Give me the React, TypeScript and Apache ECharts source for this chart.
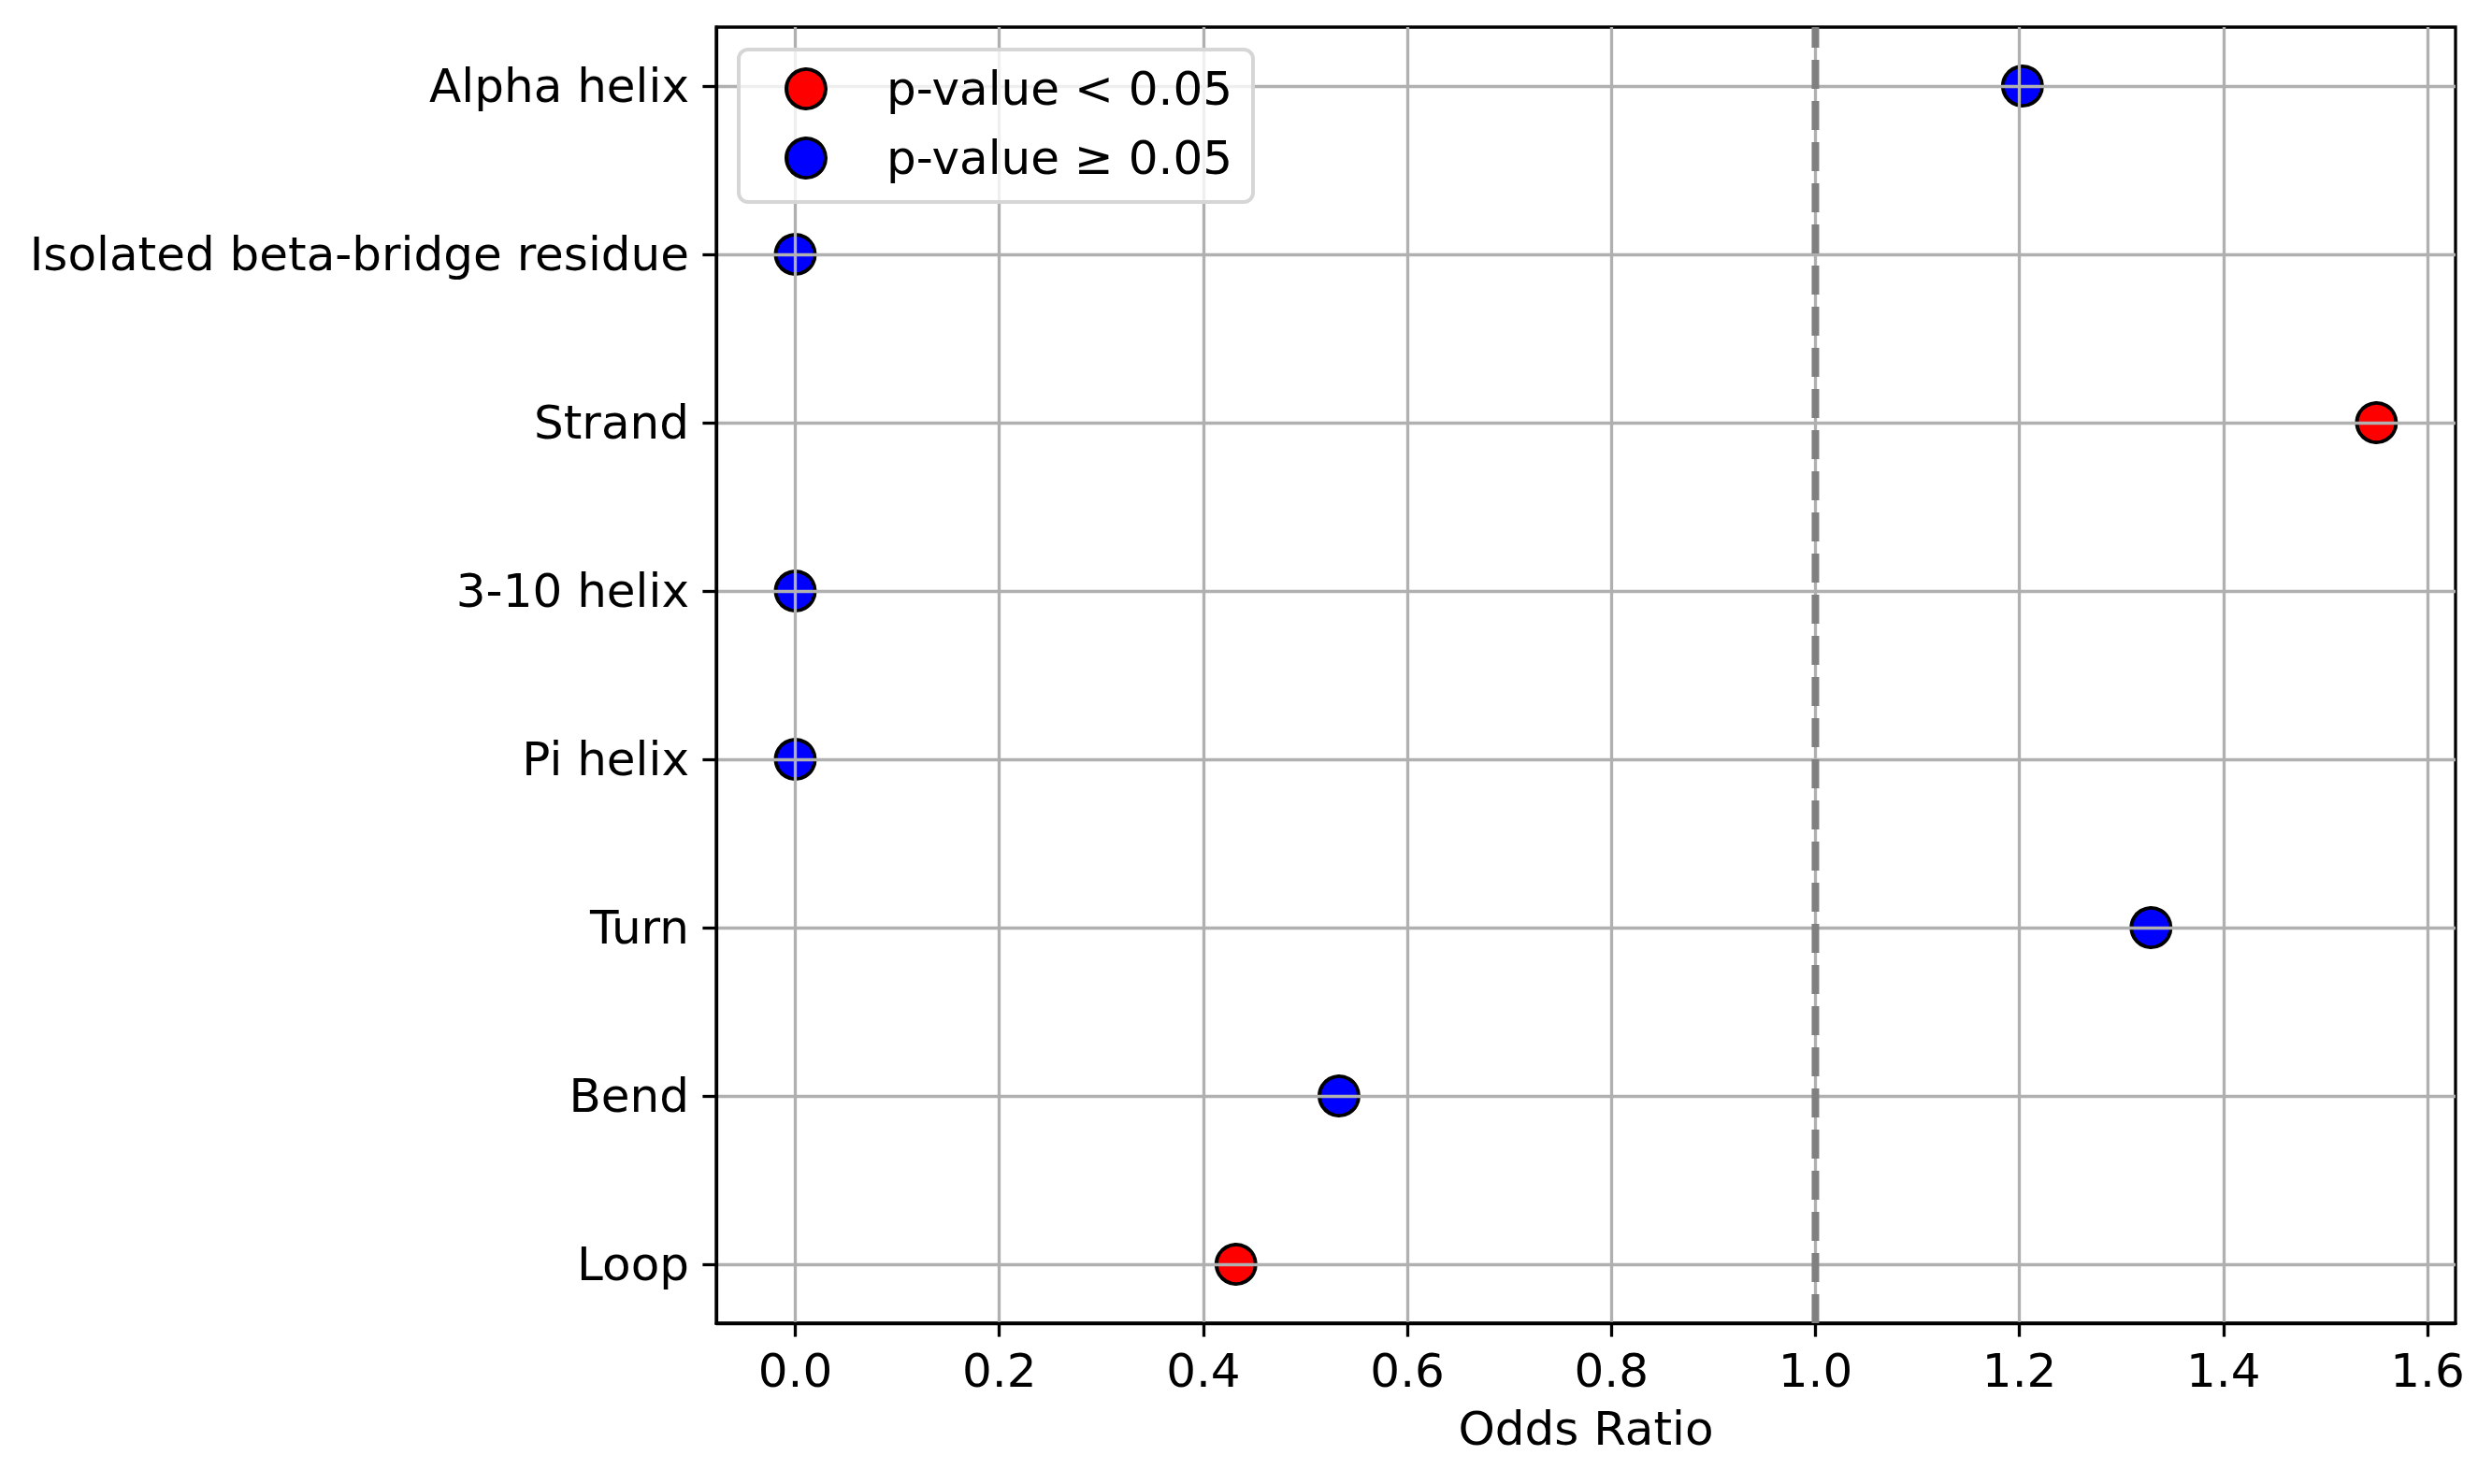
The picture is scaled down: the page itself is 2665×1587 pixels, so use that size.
import React, { useEffect, useRef } from "react";
import * as echarts from "echarts";

const categories = [
  "Alpha helix",
  "Isolated beta-bridge residue",
  "Strand",
  "3-10 helix",
  "Pi helix",
  "Turn",
  "Bend",
  "Loop",
];
const oddsRatios = [1.203, 0, 1.55, 0, 0, 1.329, 0.533, 0.432];
const significant = [false, false, true, false, false, false, false, true];
const xTicks = [0, 0.2, 0.4, 0.6, 0.8, 1.0, 1.2, 1.4, 1.6];
const refLineX = 1.0;
const legendNames = ["p-value < 0.05", "p-value \u2265 0.05"];

const FONT = "DejaVu Sans";

export default function App() {
  const ref = useRef<HTMLDivElement>(null);
  useEffect(() => {
    if (!ref.current) return;
    const chart = echarts.init(ref.current, undefined, { renderer: "svg" });
    const sigData: number[][] = [];
    const nsData: number[][] = [];
    oddsRatios.forEach((v, i) => {
      (significant[i] ? sigData : nsData).push([v, i]);
    });
    const yIdx = categories.map((_, i) => i);
    const n = categories.length;
    const xMin = -0.0775;
    const xMax = 1.6275;
    const yMin = -0.35;
    const yMax = n - 1 + 0.35;
    const gridColor = "#b0b0b0";
    const gridW = 3.3;
    const marker = {
      symbol: "circle",
      symbolSize: 42,
    };
    chart.setOption({
      animation: false,
      backgroundColor: "#ffffff",
      textStyle: { fontFamily: FONT },
      grid: {
        left: 766,
        right: 39,
        top: 29,
        bottom: 172,
        show: true,
        borderColor: "#000000",
        borderWidth: 3.3,
        backgroundColor: "transparent",
        z: 0,
      },
      legend: {
        data: legendNames,
        orient: "vertical",
        left: 790,
        top: 53,
        z: 6,
        icon: "circle",
        itemWidth: 42,
        itemHeight: 42,
        itemGap: 24,
        padding: [17, 22, 22, 49],
        backgroundColor: "rgba(255,255,255,0.8)",
        borderColor: "#d6d6d6",
        borderWidth: 4,
        borderRadius: 10,
        selectedMode: false,
        itemStyle: { borderColor: "#000000", borderWidth: 4, opacity: 1 },
        textStyle: {
          fontFamily: FONT,
          fontSize: 50,
          color: "#000000",
          lineHeight: 42,
          padding: [0, 0, 0, 60],
        },
      },
      xAxis: {
        type: "value",
        min: xMin,
        max: xMax,
        z: 3,
        name: "Odds Ratio",
        nameLocation: "middle",
        nameGap: 88,
        nameTextStyle: { fontFamily: FONT, fontSize: 50, color: "#000000" },
        axisLine: { show: true, onZero: false, lineStyle: { color: "#000000", width: 3.3 } },
        axisTick: {
          show: true,
          customValues: xTicks,
          length: 14.6,
          lineStyle: { color: "#000000", width: 3.3 },
        },
        axisLabel: {
          customValues: xTicks,
          fontFamily: FONT,
          fontSize: 50,
          color: "#000000",
          margin: 26,
          formatter: (v: number) => v.toFixed(1),
        },
        splitLine: { show: true, lineStyle: { color: gridColor, width: gridW } },
      },
      yAxis: {
        type: "value",
        min: yMin,
        max: yMax,
        inverse: true,
        z: 3,
        axisLine: { show: true, onZero: false, lineStyle: { color: "#000000", width: 3.3 } },
        axisTick: {
          show: true,
          customValues: yIdx,
          length: 14.6,
          lineStyle: { color: "#000000", width: 3.3 },
        },
        axisLabel: {
          customValues: yIdx,
          fontFamily: FONT,
          fontSize: 50,
          color: "#000000",
          margin: 29,
          formatter: (v: number) => categories[Math.round(v)] ?? "",
        },
        splitLine: { show: true, lineStyle: { color: gridColor, width: gridW } },
      },
      series: [
        {
          name: legendNames[0],
          type: "scatter",
          z: 2,
          ...marker,
          itemStyle: { color: "#ff0000", borderColor: "#000000", borderWidth: 4, opacity: 1 },
          data: sigData,
        },
        {
          name: legendNames[1],
          type: "scatter",
          z: 2,
          ...marker,
          itemStyle: { color: "#0000ff", borderColor: "#000000", borderWidth: 4, opacity: 1 },
          data: nsData,
        },
        {
          name: "ref",
          type: "line",
          z: 4,
          symbol: "none",
          silent: true,
          lineStyle: { color: "#808080", width: 8, type: [31, 13] },
          data: [
            [refLineX, yMax],
            [refLineX, yMin],
          ],
        },
      ],
    });
    return () => chart.dispose();
  }, []);
  return (
    <div
      ref={ref}
      style={{ position: "fixed", left: 0, top: 0, width: 2665, height: 1587, background: "#fff" }}
    />
  );
}
